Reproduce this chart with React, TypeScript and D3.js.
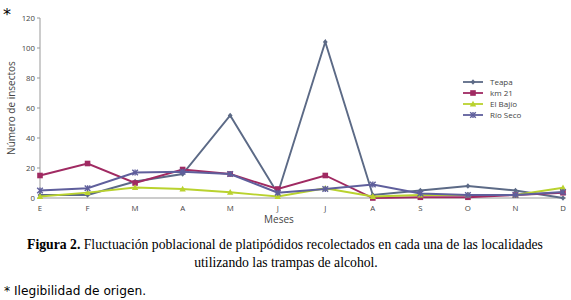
import React from "react";
import * as d3 from "d3";

const months = ["E", "F", "M", "A", "M", "J", "J", "A", "S", "O", "N", "D"];
const yTicks = [0, 20, 40, 60, 80, 100, 120];

const teapa = [2, 2, 11, 16, 55, 3, 104, 2, 5, 8, 5, 0];
const km21 = [15, 23, 10, 19, 16, 6, 15, 0, 0.5, 0.5, 2, 3.5];
const elBajio = [1, 3.6, 7, 6, 3.8, 1, 6.5, 1, 2, 2, 2, 6.8];
const rioSeco = [5, 6.5, 17, 17.5, 16, 3.5, 6, 9, 3, 2, 2, 4];

const seriesNames = ["Teapa", "km 21", "El Bajío", "Río Seco"];
const seriesColors = ["#5c6a86", "#a02a62", "#b9d22e", "#5f5f9c"];
const seriesMarkers = ["diamond", "square", "triangle", "cross"];
const seriesData = [teapa, km21, elBajio, rioSeco];

function Marker({ type, x, y, color }: { type: string; x: number; y: number; color: string }) {
  if (type === "square") return <rect x={x - 2.8} y={y - 2.8} width={5.6} height={5.6} fill={color} />;
  if (type === "triangle") return <path d={`M${x},${y - 3.2}L${x + 3.2},${y + 2.4}L${x - 3.2},${y + 2.4}Z`} fill={color} />;
  if (type === "diamond") return <path d={`M${x},${y - 2.8}L${x + 2.4},${y}L${x},${y + 2.8}L${x - 2.4},${y}Z`} fill={color} />;
  return (
    <g stroke={color} strokeWidth={1.4}>
      <line x1={x - 2.8} y1={y - 2.8} x2={x + 2.8} y2={y + 2.8} />
      <line x1={x - 2.8} y1={y + 2.8} x2={x + 2.8} y2={y - 2.8} />
      <line x1={x} y1={y - 3} x2={x} y2={y + 3} />
    </g>
  );
}

export default function App() {
  const x = d3.scalePoint<number>().domain(d3.range(months.length)).range([40, 563]);
  const y = d3.scaleLinear().domain([0, 120]).range([198, 18]);
  const line = d3
    .line<number>()
    .x((_, i) => x(i)!)
    .y((d) => y(d));
  const sans = "'Open Sans', 'DejaVu Sans', sans-serif";

  return (
    <svg
      width={571}
      height={300}
      style={{ position: "absolute", left: 0, top: 0, background: "#fff" }}
    >
      <text x={3} y={20} fontSize={16} fontFamily="DejaVu Sans" fill="#000">*</text>

      {/* axes */}
      <line x1={40} y1={y(120)} x2={40} y2={y(0)} stroke="#999" strokeWidth={1} />
      <line x1={40} y1={y(0)} x2={566} y2={y(0)} stroke="#999" strokeWidth={1} />
      {yTicks.map((t) => (
        <g key={t}>
          <line x1={37} x2={40} y1={y(t)} y2={y(t)} stroke="#999" />
          <text x={35} y={y(t) + 2.7} fontSize={7.8} textAnchor="end" fontFamily={sans} fill="#444">
            {t}
          </text>
        </g>
      ))}
      {months.map((m, i) => (
        <text key={i} x={x(i)!} y={211} fontSize={7.8} textAnchor="middle" fontFamily={sans} fill="#444">
          {m}
        </text>
      ))}
      <text x={279} y={223} fontSize={10} textAnchor="middle" fontFamily={sans} fill="#444">
        Meses
      </text>
      <text
        transform="translate(11,108) rotate(-90)"
        fontSize={10}
        textAnchor="middle"
        fontFamily={sans}
        fill="#444"
        dy="0.35em"
      >
        Número de insectos
      </text>

      {/* series */}
      {seriesData.map((data, si) => (
        <g key={si}>
          <path d={line(data)!} fill="none" stroke={seriesColors[si]} strokeWidth={1.9} />
          {data.map((v, i) => (
            <Marker key={i} type={seriesMarkers[si]} x={x(i)!} y={y(v)} color={seriesColors[si]} />
          ))}
        </g>
      ))}

      {/* legend */}
      {seriesNames.map((n, si) => {
        const ly = 82 + si * 11;
        return (
          <g key={n}>
            <line x1={463} x2={483} y1={ly} y2={ly} stroke={seriesColors[si]} strokeWidth={1.8} />
            <Marker type={seriesMarkers[si]} x={473} y={ly} color={seriesColors[si]} />
            <text x={490} y={ly + 2.8} fontSize={8} fontFamily={sans} fill="#444">
              {n}
            </text>
          </g>
        );
      })}

      {/* caption */}
      <text x={285} y={249} fontSize={13.7} textAnchor="middle" fontFamily="'Liberation Serif', serif" fill="#000">
        <tspan fontWeight="bold">Figura 2.</tspan> Fluctuación poblacional de platipódidos recolectados en cada una de las localidades
      </text>
      <text x={286} y={267} fontSize={13.7} textAnchor="middle" fontFamily="'Liberation Serif', serif" fill="#000">
        utilizando las trampas de alcohol.
      </text>
      <text x={4} y={295} fontSize={12.2} fontFamily="'DejaVu Sans', Verdana, sans-serif" fill="#000">
        * Ilegibilidad de origen.
      </text>
    </svg>
  );
}
